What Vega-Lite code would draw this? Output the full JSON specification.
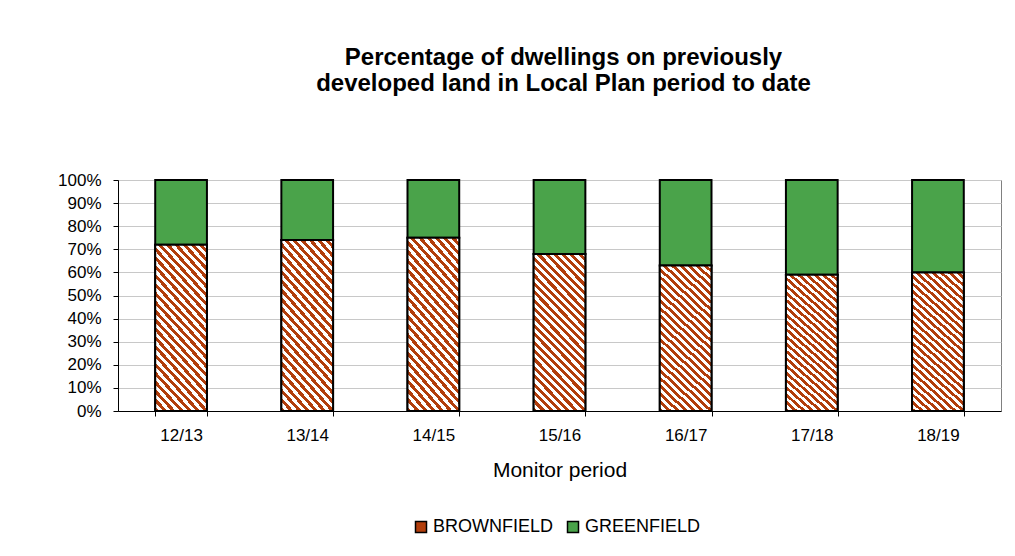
{
  "$schema": "https://vega.github.io/schema/vega-lite/v6.json",
  "width": 883,
  "height": 231,
  "autosize": {"type": "none"},
  "padding": {"left": 118, "top": 180, "right": 14, "bottom": 145},
  "background": "white",
  "config": {
    "font": "Liberation Sans",
    "view": {"stroke": "#808080", "strokeWidth": 1}
  },
  "title": {
    "text": ["Percentage of dwellings on previously", "developed land in Local Plan period to date"],
    "fontSize": 24,
    "fontWeight": "bold",
    "color": "black",
    "anchor": "middle",
    "offset": 75,
    "dx": 4,
    "lineHeight": 26
  },
  "data": {
    "values": [
      {"period": "12/13", "land": "BROWNFIELD", "share": 0.72},
      {"period": "12/13", "land": "GREENFIELD", "share": 0.28},
      {"period": "13/14", "land": "BROWNFIELD", "share": 0.74},
      {"period": "13/14", "land": "GREENFIELD", "share": 0.26},
      {"period": "14/15", "land": "BROWNFIELD", "share": 0.75},
      {"period": "14/15", "land": "GREENFIELD", "share": 0.25},
      {"period": "15/16", "land": "BROWNFIELD", "share": 0.68},
      {"period": "15/16", "land": "GREENFIELD", "share": 0.32},
      {"period": "16/17", "land": "BROWNFIELD", "share": 0.63},
      {"period": "16/17", "land": "GREENFIELD", "share": 0.37},
      {"period": "17/18", "land": "BROWNFIELD", "share": 0.59},
      {"period": "17/18", "land": "GREENFIELD", "share": 0.41},
      {"period": "18/19", "land": "BROWNFIELD", "share": 0.60},
      {"period": "18/19", "land": "GREENFIELD", "share": 0.40}
    ]
  },
  "encoding": {
    "x": {
      "field": "period",
      "type": "nominal",
      "scale": {"paddingInner": 0.59, "paddingOuter": 0.295},
      "axis": {
        "title": "Monitor period",
        "titleFontSize": 21,
        "titleFontWeight": "normal",
        "titleColor": "black",
        "titlePadding": 16,
        "labelAngle": 0,
        "labelFontSize": 17,
        "labelColor": "black",
        "labelPadding": 11,
        "tickBand": "extent",
        "tickColor": "black",
        "tickSize": 5,
        "domainColor": "black",
        "grid": false
      }
    },
    "y": {
      "field": "share",
      "type": "quantitative",
      "stack": "zero",
      "scale": {"domain": [0, 1], "nice": false},
      "axis": {
        "title": null,
        "format": ".0%",
        "values": [0, 0.1, 0.2, 0.3, 0.4, 0.5, 0.6, 0.7, 0.8, 0.9, 1],
        "labelFontSize": 17,
        "labelColor": "black",
        "labelPadding": 12,
        "tickColor": "black",
        "tickSize": 5,
        "domainColor": "black",
        "gridColor": "#C8C8C8",
        "gridWidth": 1
      }
    }
  },
  "layer": [
    {
      "mark": {"type": "bar", "stroke": "black", "strokeWidth": 2},
      "encoding": {
        "color": {
          "field": "land",
          "type": "nominal",
          "scale": {"domain": ["BROWNFIELD", "GREENFIELD"], "range": ["#B23E0C", "#4AA34A"]},
          "legend": {
            "title": null,
            "orient": "none",
            "legendX": 294,
            "legendY": 338,
            "direction": "horizontal",
            "symbolType": "square",
            "symbolSize": 121,
            "symbolStrokeColor": "black",
            "symbolStrokeWidth": 1.5,
            "symbolOpacity": 1,
            "labelFontSize": 18,
            "labelColor": "black",
            "labelOffset": 3,
            "columnPadding": 10
          }
        },
        "order": {"field": "land", "sort": "ascending"}
      }
    },
    {
      "transform": [{"filter": "datum.land === 'BROWNFIELD'"}],
      "mark": {
        "type": "bar",
        "stroke": "black",
        "strokeWidth": 2,
        "fill": {
          "gradient": "linear",
          "x1": 0, "y1": 1, "x2": 0.403, "y2": -0.2,
          "stops": [
            {"offset": 0, "color": "#B23E0C"}, {"offset": 0.02, "color": "#B23E0C"}, {"offset": 0.02, "color": "#FFFFFF"}, {"offset": 0.04, "color": "#FFFFFF"},
            {"offset": 0.04, "color": "#B23E0C"}, {"offset": 0.06, "color": "#B23E0C"}, {"offset": 0.06, "color": "#FFFFFF"}, {"offset": 0.08, "color": "#FFFFFF"},
            {"offset": 0.08, "color": "#B23E0C"}, {"offset": 0.10, "color": "#B23E0C"}, {"offset": 0.10, "color": "#FFFFFF"}, {"offset": 0.12, "color": "#FFFFFF"},
            {"offset": 0.12, "color": "#B23E0C"}, {"offset": 0.14, "color": "#B23E0C"}, {"offset": 0.14, "color": "#FFFFFF"}, {"offset": 0.16, "color": "#FFFFFF"},
            {"offset": 0.16, "color": "#B23E0C"}, {"offset": 0.18, "color": "#B23E0C"}, {"offset": 0.18, "color": "#FFFFFF"}, {"offset": 0.20, "color": "#FFFFFF"},
            {"offset": 0.20, "color": "#B23E0C"}, {"offset": 0.22, "color": "#B23E0C"}, {"offset": 0.22, "color": "#FFFFFF"}, {"offset": 0.24, "color": "#FFFFFF"},
            {"offset": 0.24, "color": "#B23E0C"}, {"offset": 0.26, "color": "#B23E0C"}, {"offset": 0.26, "color": "#FFFFFF"}, {"offset": 0.28, "color": "#FFFFFF"},
            {"offset": 0.28, "color": "#B23E0C"}, {"offset": 0.30, "color": "#B23E0C"}, {"offset": 0.30, "color": "#FFFFFF"}, {"offset": 0.32, "color": "#FFFFFF"},
            {"offset": 0.32, "color": "#B23E0C"}, {"offset": 0.34, "color": "#B23E0C"}, {"offset": 0.34, "color": "#FFFFFF"}, {"offset": 0.36, "color": "#FFFFFF"},
            {"offset": 0.36, "color": "#B23E0C"}, {"offset": 0.38, "color": "#B23E0C"}, {"offset": 0.38, "color": "#FFFFFF"}, {"offset": 0.40, "color": "#FFFFFF"},
            {"offset": 0.40, "color": "#B23E0C"}, {"offset": 0.42, "color": "#B23E0C"}, {"offset": 0.42, "color": "#FFFFFF"}, {"offset": 0.44, "color": "#FFFFFF"},
            {"offset": 0.44, "color": "#B23E0C"}, {"offset": 0.46, "color": "#B23E0C"}, {"offset": 0.46, "color": "#FFFFFF"}, {"offset": 0.48, "color": "#FFFFFF"},
            {"offset": 0.48, "color": "#B23E0C"}, {"offset": 0.50, "color": "#B23E0C"}, {"offset": 0.50, "color": "#FFFFFF"}, {"offset": 0.52, "color": "#FFFFFF"},
            {"offset": 0.52, "color": "#B23E0C"}, {"offset": 0.54, "color": "#B23E0C"}, {"offset": 0.54, "color": "#FFFFFF"}, {"offset": 0.56, "color": "#FFFFFF"},
            {"offset": 0.56, "color": "#B23E0C"}, {"offset": 0.58, "color": "#B23E0C"}, {"offset": 0.58, "color": "#FFFFFF"}, {"offset": 0.60, "color": "#FFFFFF"},
            {"offset": 0.60, "color": "#B23E0C"}, {"offset": 0.62, "color": "#B23E0C"}, {"offset": 0.62, "color": "#FFFFFF"}, {"offset": 0.64, "color": "#FFFFFF"},
            {"offset": 0.64, "color": "#B23E0C"}, {"offset": 0.66, "color": "#B23E0C"}, {"offset": 0.66, "color": "#FFFFFF"}, {"offset": 0.68, "color": "#FFFFFF"},
            {"offset": 0.68, "color": "#B23E0C"}, {"offset": 0.70, "color": "#B23E0C"}, {"offset": 0.70, "color": "#FFFFFF"}, {"offset": 0.72, "color": "#FFFFFF"},
            {"offset": 0.72, "color": "#B23E0C"}, {"offset": 0.74, "color": "#B23E0C"}, {"offset": 0.74, "color": "#FFFFFF"}, {"offset": 0.76, "color": "#FFFFFF"},
            {"offset": 0.76, "color": "#B23E0C"}, {"offset": 0.78, "color": "#B23E0C"}, {"offset": 0.78, "color": "#FFFFFF"}, {"offset": 0.80, "color": "#FFFFFF"},
            {"offset": 0.80, "color": "#B23E0C"}, {"offset": 0.82, "color": "#B23E0C"}, {"offset": 0.82, "color": "#FFFFFF"}, {"offset": 0.84, "color": "#FFFFFF"},
            {"offset": 0.84, "color": "#B23E0C"}, {"offset": 0.86, "color": "#B23E0C"}, {"offset": 0.86, "color": "#FFFFFF"}, {"offset": 0.88, "color": "#FFFFFF"},
            {"offset": 0.88, "color": "#B23E0C"}, {"offset": 0.90, "color": "#B23E0C"}, {"offset": 0.90, "color": "#FFFFFF"}, {"offset": 0.92, "color": "#FFFFFF"},
            {"offset": 0.92, "color": "#B23E0C"}, {"offset": 0.94, "color": "#B23E0C"}, {"offset": 0.94, "color": "#FFFFFF"}, {"offset": 0.96, "color": "#FFFFFF"},
            {"offset": 0.96, "color": "#B23E0C"}, {"offset": 0.98, "color": "#B23E0C"}, {"offset": 0.98, "color": "#FFFFFF"}, {"offset": 1, "color": "#FFFFFF"}
          ]
        }
      }
    }
  ]
}
